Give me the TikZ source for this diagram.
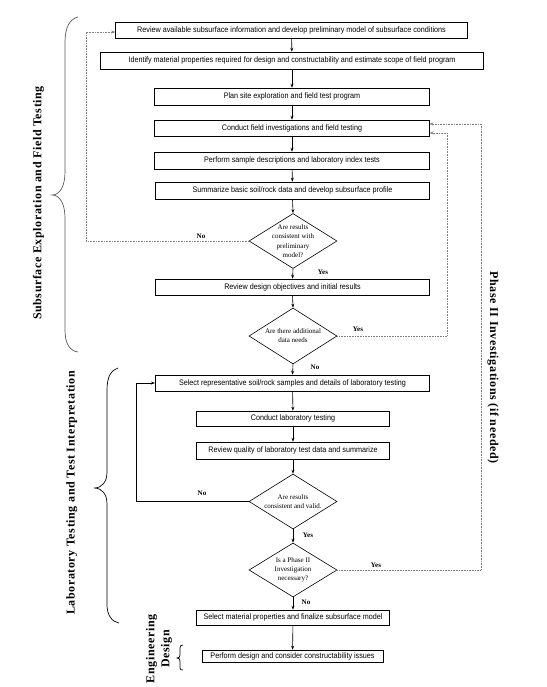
\documentclass[tikz,border=0pt]{standalone}
\usepackage{fontspec}
\setmainfont{Liberation Serif}
\setsansfont[FakeStretch=0.9]{Liberation Sans}
\newfontfamily\sidefont[LetterSpace=5]{Liberation Serif}
\usetikzlibrary{shapes.geometric,arrows.meta,calc}
\begin{document}
\begin{tikzpicture}[x=1pt,y=-1pt,
 box/.style={draw,line width=0.6pt,inner sep=0pt,font=\sffamily\fontsize{8}{9}\selectfont},
 dia/.style={draw,shape=diamond,line width=0.6pt,inner sep=0pt,minimum width=88pt,minimum height=55pt},
 dtext/.style={align=center,font=\fontsize{7}{9.3}\selectfont,inner sep=0pt},
 lab/.style={font=\bfseries\fontsize{7}{8}\selectfont,inner sep=0pt},
 arr/.style={-{Stealth[length=4pt,width=3pt]},line width=0.6pt},
 dot/.style={-{Stealth[length=4pt,width=3pt]},line width=0.6pt,gray,dash pattern=on 0.8pt off 0.8pt},
 side/.style={font=\sidefont\bfseries\fontsize{12}{15}\selectfont,inner sep=0pt},
 brace/.style={line width=0.7pt}]
\fill[white] (0,0) rectangle (546,687);
\useasboundingbox (0,0) rectangle (546,687);

\node[box,minimum width=352pt,minimum height=16pt] (b1) at (291.5,30) {Review available subsurface information and develop preliminary model of subsurface conditions};
\node[box,minimum width=383pt,minimum height=17pt] (b2) at (292,60.5) {Identify material properties required for design and constructability and estimate scope of field program};
\node[box,minimum width=274.5pt,minimum height=17pt] (b3) at (292,96.5) {Plan site exploration and field test program};
\node[box,minimum width=274.5pt,minimum height=16pt] (b4) at (292,128) {Conduct field investigations and field testing};
\node[box,minimum width=274.5pt,minimum height=17pt] (b5) at (292,160.5) {Perform sample descriptions and laboratory index tests};
\node[box,minimum width=274.5pt,minimum height=17pt] (b6) at (292.5,190.5) {Summarize basic soil/rock data and develop subsurface profile};
\node[dia] (d1) at (293,241) {};
\node[dtext] (d1t) at (293,241) {Are results\\consistent with\\preliminary\\model?};
\node[box,minimum width=274.5pt,minimum height=16pt] (b7) at (292.5,287) {Review design objectives and initial results};
\node[dia,minimum height=56pt] (d2) at (293,336) {};
\node[dtext] (d2t) at (293,335.5) {Are there additional\\data needs};
\node[box,minimum width=274.5pt,minimum height=16pt] (b8) at (292.5,383) {Select representative soil/rock samples and details of laboratory testing};
\node[box,minimum width=193.5pt,minimum height=15pt] (b9) at (293,418.5) {Conduct laboratory testing};
\node[box,minimum width=193.5pt,minimum height=17pt] (b10) at (293,450.5) {Review quality of laboratory test data and summarize};
\node[dia] (d3) at (293,501.5) {};
\node[dtext] (d3t) at (293,501.5) {Are results\\consistent and valid.};
\node[dia,minimum height=54pt] (d4) at (293,570) {};
\node[dtext] (d4t) at (293,570) {Is a Phase II\\Investigation\\necessary?};
\node[box,minimum width=193.5pt,minimum height=15pt] (b11) at (293,617.5) {Select material properties and finalize subsurface model};
\node[box,minimum width=181pt,minimum height=12pt] (b12) at (292.5,656) {Perform design and consider constructability issues};

\draw[arr] (b1) -- (b2);
\draw[arr] (b2) -- (b3);
\draw[arr] (b3) -- (b4);
\draw[arr] (b4) -- (b5);
\draw[arr] (b5) -- (b6);
\draw[arr] (b6.south) -- (d1.north);
\draw[arr] (d1.south) -- (b7.north);
\draw[arr] (b7.south) -- (d2.north);
\draw[arr] (d2.south) -- (b8.north);
\draw[arr] (b8) -- (b9);
\draw[arr] (b9) -- (b10);
\draw[arr] (b10.south) -- (d3.north);
\draw[arr] (d3.south) -- (d4.north);
\draw[arr] (d4.south) -- (b11.north);
\draw[arr] (b11) -- (b12);

\coordinate (c1) at (86,32);
\coordinate (c2) at (447,133);
\coordinate (c3) at (481,124);
\coordinate (c4) at (136,383);
\draw[dot] (d1.west) -| (c1) -- (b1.west |- c1);
\draw[dot] (d2.east) -| (c2) -- (b4.east |- c2);
\draw[dot] (d4.east) -| (c3) -- (b4.east |- c3);
\draw[arr] (d3.west) -| (c4) -- (b8.west |- c4);

\node[lab] (n1) at (201,236) {No};
\node[lab] (y1) at (323,272) {Yes};
\node[lab] (y2) at (358,329) {Yes};
\node[lab] (n2) at (315,367) {No};
\node[lab] (n3) at (202,493) {No};
\node[lab] (y3) at (308,535) {Yes};
\node[lab] (y4) at (376,565) {Yes};
\node[lab] (n4) at (306,602) {No};

\node[side,rotate=90] (t1) at (38.5,203) {Subsurface Exploration and Field Testing};
\node[side,rotate=90] (t2) at (71.7,493) {Laboratory Testing and Test Interpretation};
\node[side,rotate=-90] (t3) at (493,367.5) {Phase II Investigations (if needed)};
\node[side,rotate=90,align=center] (t4) at (159,649) {Engineering\\Design};

\draw[brace,gray!70!black] (78,17) .. controls (70,19) and (65,27) .. (65,42) -- (65,172) .. controls (65,186) and (60,195) .. (52,195) .. controls (60,195) and (65,204) .. (65,218) -- (65,330) .. controls (65,344) and (70,351) .. (78,352);
\draw[brace] (118,368) .. controls (111,370) and (107,377) .. (107,390) -- (107,472) .. controls (107,482) and (102,488) .. (94,488) .. controls (102,488) and (107,494) .. (107,504) -- (107,605) .. controls (107,615) and (112,622) .. (119,623);
\draw[brace] (183,645) .. controls (181,645) and (180,646) .. (180,648) -- (180,655) .. controls (180,657) and (179,658) .. (177,658) .. controls (179,658) and (180,659) .. (180,661) -- (180,668) .. controls (180,669.5) and (181,670) .. (183,670);
\end{tikzpicture}
\end{document}
